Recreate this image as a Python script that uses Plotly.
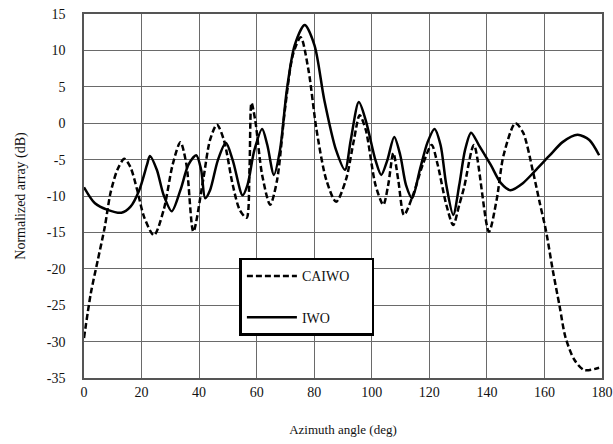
import plotly.graph_objects as go

# CAIWO (dashed) azimuth angle (deg) and normalized array (dB)
caiwo_angle = [0, 2.4, 4.8, 7.2, 9.2, 11.6, 14.0, 16.1, 18.5, 20.9, 24.3, 27.7, 30.8, 33.5,
               35.6, 38.0, 41.4, 43.8, 46.2, 48.6, 51.7, 54.1, 56.5, 57.5, 58.2, 59.5, 61.9,
               64.7, 67.1, 69.8, 72.6, 75.3, 78.0, 80.8, 84.2, 87.6, 91.0, 93.8, 95.8, 97.9,
               101.3, 104.0, 105.7, 107.5, 109.2, 111.2, 114.3, 117.7, 120.8, 122.9, 125.9,
               128.3, 130.4, 132.1, 135.5, 140.7, 143.4, 145.8, 149.9, 152.6, 156.1, 158.4,
               160.5, 162.9, 165.3, 167.3, 170.4, 173.8, 179.0]
caiwo_db = [-29.5, -23.3, -18.8, -14.3, -9.6, -6.4, -4.9, -6.0, -9.2, -12.9, -15.4, -11.9,
            -5.7, -2.6, -5.7, -14.9, -7.8, -2.3, -0.2, -2.3, -8.5, -11.9, -13.0, -6.4, 2.8,
            0.4, -7.1, -11.2, -7.8, 1.8, 9.4, 11.8, 7.3, -0.9, -7.8, -10.8, -7.8, -2.3, 1.1,
            -0.9, -8.5, -11.2, -8.5, -4.1, -7.8, -12.6, -9.9, -5.7, -3.0, -5.7, -11.2, -14.0,
            -11.2, -8.8, -3.0, -14.9, -10.5, -4.4, 0.0, -1.3, -6.8, -11.0, -14.7, -20.2,
            -25.2, -29.4, -32.5, -33.9, -33.6]

# IWO (solid)
iwo_angle = [0, 3.8, 8.2, 13.0, 16.1, 19.2, 21.9, 22.9, 25.3, 27.7, 30.5, 33.5, 36.3, 39.0,
             40.7, 42.1, 43.8, 46.5, 49.3, 51.7, 55.1, 56.8, 59.2, 61.9, 63.7, 66.0, 68.1,
             70.5, 73.2, 76.7, 80.1, 83.5, 87.6, 90.7, 92.7, 95.5, 97.9, 101.3, 103.3, 105.4,
             107.8, 109.9, 111.9, 114.0, 116.7, 119.4, 121.8, 123.9, 125.9, 128.3, 130.4,
             132.4, 134.5, 137.2, 141.3, 144.8, 148.2, 152.6, 157.1, 161.9, 166.3, 171.5,
             175.6, 179.0]
iwo_db = [-8.8, -11.0, -11.9, -12.3, -11.5, -9.2, -5.7, -4.5, -6.4, -9.9, -12.1, -9.2, -5.7,
          -4.4, -6.4, -10.3, -9.2, -5.1, -2.7, -5.1, -9.9, -8.5, -3.7, -0.8, -3.0, -7.1,
          -3.7, 4.6, 10.7, 13.5, 10.7, 3.2, -3.7, -6.4, -2.3, 2.9, 0.4, -5.1, -7.1, -5.1,
          -1.9, -4.4, -8.5, -10.3, -6.4, -2.6, -0.8, -3.0, -8.5, -12.6, -8.5, -3.7, -1.3,
          -3.0, -5.7, -8.2, -9.2, -8.2, -6.4, -4.4, -2.6, -1.6, -2.3, -4.4]

x_ticks = [0, 20, 40, 60, 80, 100, 120, 140, 160, 180]
y_ticks = [15, 10, 5, 0, -5, -10, -15, -20, -25, -30, -35]

FONT = "Liberation Serif"
PAD = "\u00a0" * 5

fig = go.Figure()
fig.add_trace(go.Scatter(
    x=caiwo_angle, y=caiwo_db, mode="lines", name="CAIWO" + PAD, legendgroup="a",
    line=dict(color="black", width=2.5, dash="6px,3px", shape="spline", smoothing=0.8),
))
fig.add_trace(go.Scatter(
    x=iwo_angle, y=iwo_db, mode="lines", name="IWO", legendgroup="b",
    line=dict(color="black", width=2.5, shape="spline", smoothing=0.8),
))

fig.update_layout(
    width=613, height=444,
    margin=dict(l=84, r=11, t=14, b=66),
    paper_bgcolor="white", plot_bgcolor="white",
    font=dict(family=FONT, size=14, color="#111"),
    showlegend=True,
    legend=dict(
        x=0.30, y=0.33, xanchor="left", yanchor="top",
        bgcolor="white", bordercolor="black", borderwidth=2.5,
        font=dict(family=FONT, size=14, color="#111"),
        tracegroupgap=20, traceorder="grouped", itemwidth=50,
    ),
)
fig.update_xaxes(
    range=[0, 180], tickvals=x_ticks, ticktext=[str(v) for v in x_ticks],
    showgrid=True, gridcolor="#6a6a6a", gridwidth=1.4,
    showline=True, linecolor="#555", linewidth=1.6, mirror=True,
    zeroline=False, ticks="", automargin=False,
    title=dict(text="Azimuth angle (deg)", font=dict(family=FONT, size=13, color="#111"), standoff=26),
)
fig.update_yaxes(
    range=[-35, 15], tickvals=y_ticks, ticktext=[str(v) for v in y_ticks],
    showgrid=True, gridcolor="#6a6a6a", gridwidth=1.4,
    showline=True, linecolor="#555", linewidth=1.6, mirror=True,
    zeroline=False, ticks="", ticklabelstandoff=14, automargin=False,
    title=dict(text="Normalized array (dB)", font=dict(family=FONT, size=14, color="#111"), standoff=18),
)

fig.write_html("out.html")
